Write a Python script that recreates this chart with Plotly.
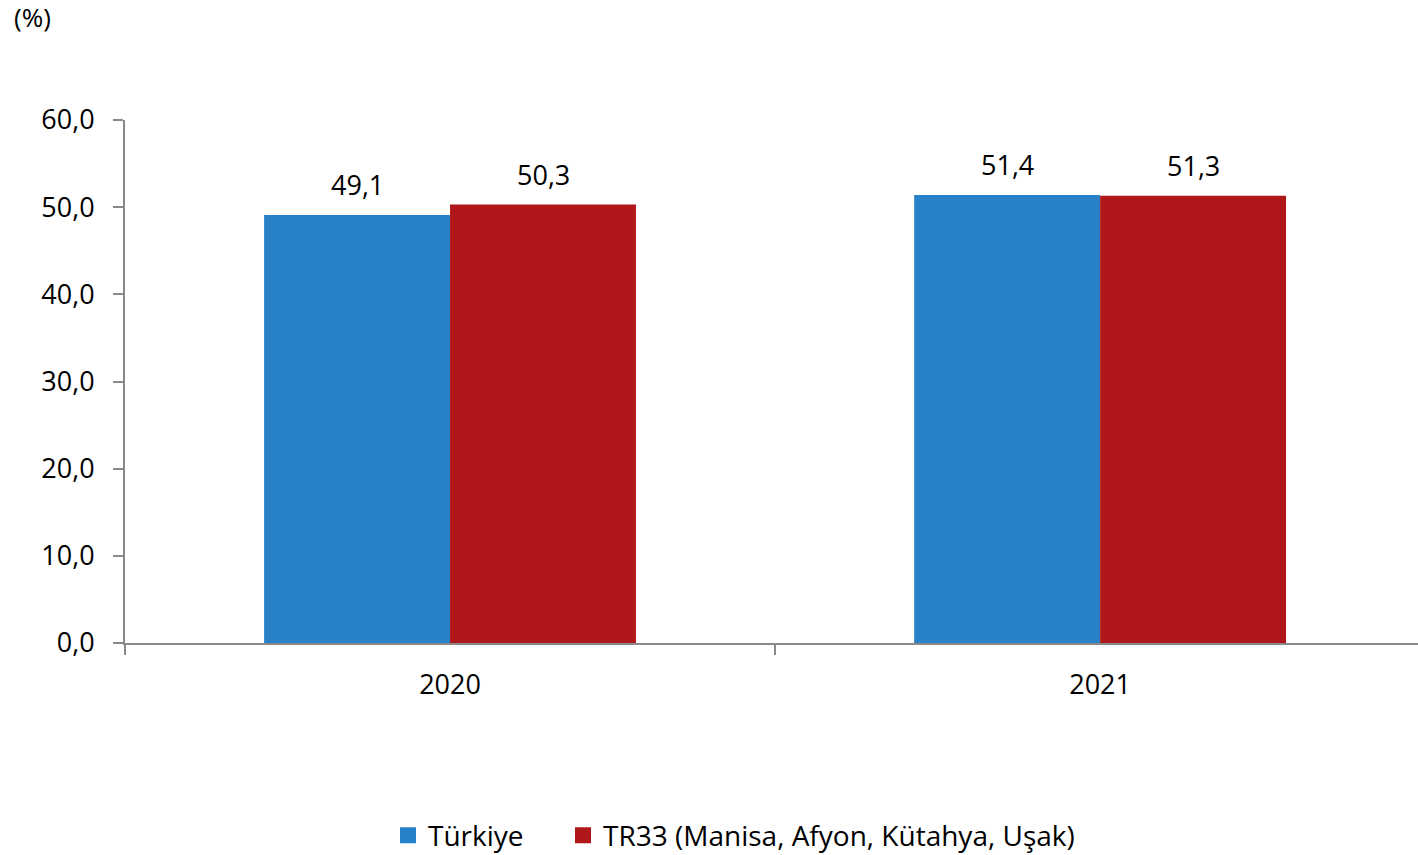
import plotly.graph_objects as go

years = ["2020", "2021"]
turkiye = [49.1, 51.4]
tr33 = [50.3, 51.3]
series_names = ["Türkiye", "TR33 (Manisa, Afyon, Kütahya, Uşak)"]
colors = ["#2880C6", "#B0171A"]
y_ticks = [0, 10, 20, 30, 40, 50, 60]
y_tick_labels = ["0,0", "10,0", "20,0", "30,0", "40,0", "50,0", "60,0"]

FONT = "'Open Sans', 'Noto Sans', sans-serif"
FS = 27

fig = go.Figure()
for k, (name, vals, col) in enumerate(zip(series_names, [turkiye, tr33], colors)):
    fig.add_trace(go.Bar(x=years, y=vals, name=name, marker_color=col,
                         marker_line_width=0, showlegend=False))
    fig.add_trace(go.Scatter(x=[None], y=[None], mode="markers", name=name,
                             legend="legend" if k == 0 else "legend2",
                             marker=dict(symbol="square", size=17, color=col)))

# data labels (x as category index)
for vals, shift in zip([turkiye, tr33], [-93, 93]):
    for i, v in enumerate(vals):
        fig.add_annotation(x=i, y=v, text=f"{v:.1f}".replace(".", ","),
                           showarrow=False, xshift=shift, yshift=10,
                           yanchor="bottom", font=dict(size=FS, color="#000000", family=FONT))

fig.add_annotation(xref="paper", yref="paper", x=0, y=1, xshift=-125 + 12, yshift=123,
                   xanchor="left", yanchor="top", text="(%)",
                   showarrow=False, font=dict(size=26, color="#000000", family=FONT))

legend_common = dict(orientation="h", xanchor="left", xref="container",
                     y=1 - 835.5 / 855, yanchor="middle", yref="container",
                     font=dict(size=28, family=FONT), itemwidth=30,
                     bgcolor="rgba(0,0,0,0)")

fig.update_layout(
    width=1418, height=855,
    margin=dict(l=125, r=0, t=120, b=212),
    plot_bgcolor="white", paper_bgcolor="white",
    barmode="group", bargap=0.428, bargroupgap=0,
    font=dict(family=FONT, size=FS, color="#000000"),
    showlegend=True,
    legend=dict(x=388 / 1418, **legend_common),
    legend2=dict(x=563 / 1418, **legend_common),
    xaxis=dict(type="category", range=[-0.5, 1.489], tickson="boundaries",
               ticks="outside", ticklen=10, tickwidth=1.5, tickcolor="#898989",
               showline=True, linecolor="#898989", linewidth=2,
               showgrid=False, zeroline=False, ticklabelstandoff=17),
    yaxis=dict(range=[0, 60], tickvals=y_ticks, ticktext=y_tick_labels,
               ticks="outside", ticklen=10, tickwidth=1.5, tickcolor="#898989",
               showline=True, linecolor="#898989", linewidth=2,
               showgrid=False, zeroline=False, ticklabelstandoff=13),
)

fig.write_html("out.html", config={"displayModeBar": False},
               post_script="document.body.style.margin='0';")
